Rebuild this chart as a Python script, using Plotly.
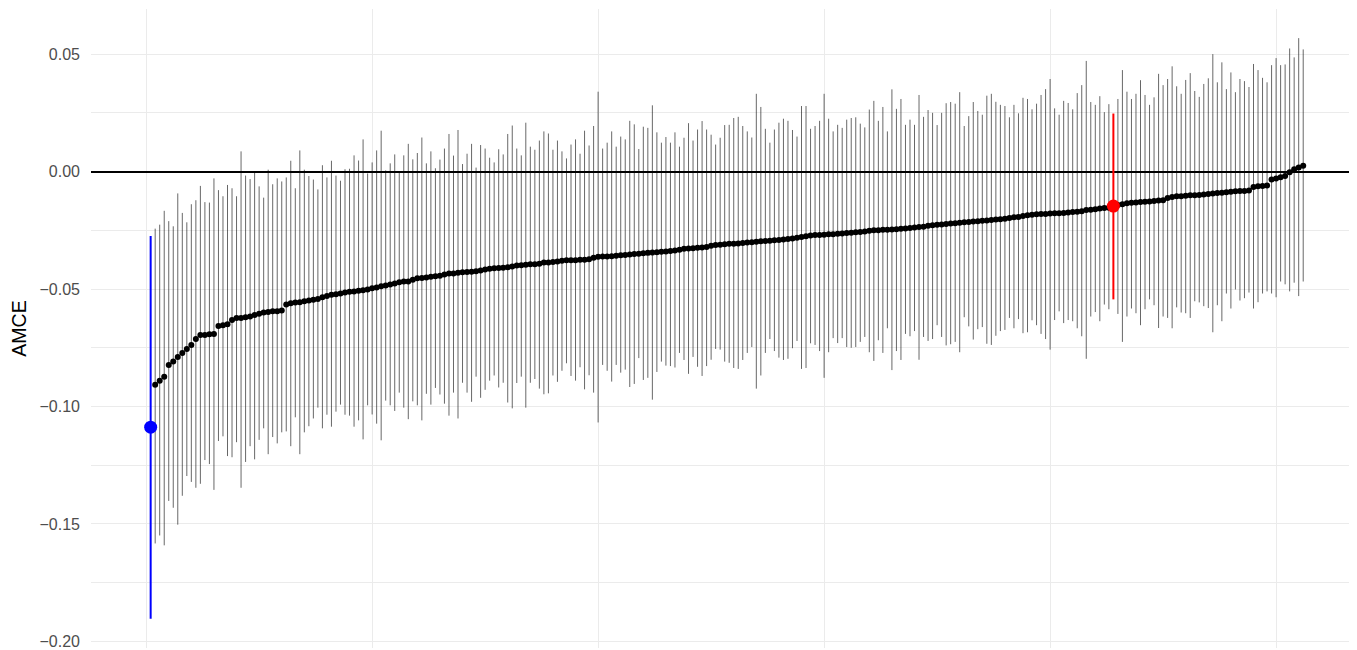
import plotly.graph_objects as go

# ---- data (sorted AMCE estimates with 95% CIs) ----
estimate = [
    -0.1088, -0.0907, -0.0890, -0.0873, -0.0823, -0.0809, -0.0789, -0.0772, -0.0755, -0.0738,
    -0.0713, -0.0696, -0.0696, -0.0693, -0.0691, -0.0657, -0.0654, -0.0650, -0.0632, -0.0623,
    -0.0623, -0.0620, -0.0617, -0.0611, -0.0605, -0.0600, -0.0598, -0.0595, -0.0595, -0.0591,
    -0.0566, -0.0561, -0.0557, -0.0556, -0.0552, -0.0549, -0.0546, -0.0542, -0.0535, -0.0530,
    -0.0524, -0.0522, -0.0519, -0.0515, -0.0512, -0.0510, -0.0507, -0.0505, -0.0502, -0.0497,
    -0.0493, -0.0488, -0.0485, -0.0481, -0.0476, -0.0471, -0.0468, -0.0468, -0.0461, -0.0454,
    -0.0453, -0.0451, -0.0448, -0.0446, -0.0443, -0.0438, -0.0434, -0.0434, -0.0431, -0.0429,
    -0.0427, -0.0426, -0.0424, -0.0421, -0.0417, -0.0414, -0.0412, -0.0410, -0.0409, -0.0407,
    -0.0404, -0.0400, -0.0399, -0.0397, -0.0395, -0.0394, -0.0392, -0.0387, -0.0387, -0.0385,
    -0.0383, -0.0380, -0.0378, -0.0377, -0.0377, -0.0375, -0.0375, -0.0373, -0.0367, -0.0363,
    -0.0361, -0.0361, -0.0360, -0.0358, -0.0356, -0.0355, -0.0353, -0.0351, -0.0350, -0.0348,
    -0.0346, -0.0345, -0.0343, -0.0341, -0.0340, -0.0338, -0.0336, -0.0333, -0.0329, -0.0328,
    -0.0326, -0.0324, -0.0323, -0.0321, -0.0316, -0.0313, -0.0311, -0.0309, -0.0307, -0.0307,
    -0.0306, -0.0304, -0.0302, -0.0301, -0.0299, -0.0297, -0.0296, -0.0294, -0.0292, -0.0291,
    -0.0289, -0.0287, -0.0285, -0.0282, -0.0279, -0.0275, -0.0272, -0.0270, -0.0270, -0.0269,
    -0.0267, -0.0267, -0.0265, -0.0264, -0.0262, -0.0260, -0.0258, -0.0257, -0.0255, -0.0252,
    -0.0250, -0.0250, -0.0248, -0.0248, -0.0247, -0.0245, -0.0243, -0.0242, -0.0240, -0.0238,
    -0.0236, -0.0235, -0.0231, -0.0228, -0.0226, -0.0225, -0.0223, -0.0221, -0.0220, -0.0218,
    -0.0216, -0.0215, -0.0213, -0.0211, -0.0209, -0.0208, -0.0206, -0.0204, -0.0203, -0.0201,
    -0.0198, -0.0194, -0.0193, -0.0189, -0.0186, -0.0184, -0.0182, -0.0181, -0.0181, -0.0179,
    -0.0177, -0.0177, -0.0176, -0.0174, -0.0172, -0.0171, -0.0169, -0.0164, -0.0162, -0.0160,
    -0.0157, -0.0155, -0.0154, -0.0147, -0.0142, -0.0139, -0.0135, -0.0133, -0.0132, -0.0130,
    -0.0128, -0.0127, -0.0125, -0.0123, -0.0122, -0.0113, -0.0108, -0.0105, -0.0105, -0.0103,
    -0.0101, -0.0101, -0.0100, -0.0098, -0.0096, -0.0093, -0.0091, -0.0090, -0.0088, -0.0086,
    -0.0084, -0.0083, -0.0083, -0.0081, -0.0066, -0.0063, -0.0061, -0.0059, -0.0034, -0.0029,
    -0.0024, -0.0019, -0.0003, 0.0010, 0.0017, 0.0025,
]

upper = [
    -0.0274, -0.0243, -0.0226, -0.0167, -0.0211, -0.0233, -0.0093, -0.0176, -0.0216, -0.0139,
    -0.0122, -0.0061, -0.0130, -0.0132, -0.0029, -0.0079, -0.0105, -0.0057, -0.0071, -0.0105,
    0.0086, -0.0017, -0.0032, -0.0002, -0.0063, -0.0111, 0.0008, -0.0054, -0.0029, -0.0042,
    -0.0025, 0.0046, -0.0071, 0.0090, 0.0008, -0.0019, -0.0034, -0.0076, 0.0027, -0.0025,
    0.0046, -0.0017, -0.0039, 0.0010, 0.0012, 0.0069, 0.0047, 0.0137, -0.0008, 0.0039,
    0.0090, 0.0174, 0.0005, 0.0035, 0.0073, -0.0003, 0.0069, 0.0118, 0.0052, 0.0079,
    0.0145, 0.0035, 0.0086, 0.0014, 0.0051, 0.0098, 0.0160, 0.0068, 0.0177, 0.0032,
    0.0076, 0.0118, 0.0017, 0.0113, 0.0098, 0.0059, 0.0039, 0.0095, 0.0073, 0.0160,
    0.0196, 0.0098, 0.0069, 0.0208, 0.0106, 0.0093, 0.0132, 0.0171, 0.0162, 0.0093,
    0.0132, 0.0086, 0.0056, 0.0115, 0.0137, 0.0076, 0.0174, 0.0111, 0.0194, 0.0340,
    0.0098, 0.0123, 0.0171, 0.0106, 0.0149, 0.0137, 0.0216, 0.0201, 0.0096, 0.0191,
    0.0186, 0.0282, 0.0167, 0.0123, 0.0147, 0.0123, 0.0167, 0.0106, 0.0144, 0.0206,
    0.0132, 0.0179, 0.0215, 0.0179, 0.0157, 0.0115, 0.0144, 0.0198, 0.0199, 0.0228,
    0.0233, 0.0194, 0.0171, 0.0145, 0.0331, 0.0275, 0.0182, 0.0123, 0.0179, 0.0208,
    0.0225, 0.0216, 0.0177, 0.0149, 0.0279, 0.0279, 0.0182, 0.0194, 0.0216, 0.0331,
    0.0225, 0.0171, 0.0199, 0.0186, 0.0221, 0.0228, 0.0231, 0.0204, 0.0188, 0.0264,
    0.0301, 0.0216, 0.0275, 0.0171, 0.0350, 0.0267, 0.0309, 0.0199, 0.0221, 0.0199,
    0.0326, 0.0233, 0.0262, 0.0250, 0.0198, 0.0250, 0.0291, 0.0296, 0.0289, 0.0338,
    0.0194, 0.0236, 0.0296, 0.0258, 0.0242, 0.0323, 0.0331, 0.0297, 0.0284, 0.0279,
    0.0231, 0.0284, 0.0248, 0.0314, 0.0309, 0.0265, 0.0289, 0.0326, 0.0351, 0.0394,
    0.0269, 0.0242, 0.0301, 0.0292, 0.0265, 0.0334, 0.0368, 0.0471, 0.0296, 0.0284,
    0.0321, 0.0253, 0.0287, 0.0247, 0.0309, 0.0432, 0.0340, 0.0309, 0.0331, 0.0389,
    0.0326, 0.0284, 0.0316, 0.0416, 0.0368, 0.0394, 0.0448, 0.0363, 0.0331, 0.0390,
    0.0419, 0.0343, 0.0318, 0.0373, 0.0397, 0.0500, 0.0380, 0.0465, 0.0351, 0.0422,
    0.0338, 0.0394, 0.0385, 0.0360, 0.0458, 0.0432, 0.0399, 0.0380, 0.0453, 0.0483,
    0.0453, 0.0456, 0.0524, 0.0486, 0.0568, 0.0520,
]

lower = [
    -0.1904, -0.1583, -0.1549, -0.1591, -0.1402, -0.1431, -0.1503, -0.1380, -0.1296, -0.1321,
    -0.1346, -0.1329, -0.1228, -0.1245, -0.1355, -0.1147, -0.1127, -0.1211, -0.1216, -0.1152,
    -0.1346, -0.1236, -0.1169, -0.1225, -0.1142, -0.1093, -0.1203, -0.1130, -0.1157, -0.1110,
    -0.1106, -0.1169, -0.1046, -0.1203, -0.1110, -0.1084, -0.1051, -0.1005, -0.1093, -0.1035,
    -0.1086, -0.1022, -0.0992, -0.1035, -0.1039, -0.1086, -0.1059, -0.1140, -0.0995, -0.1034,
    -0.1073, -0.1144, -0.0975, -0.0995, -0.1019, -0.0941, -0.1005, -0.1054, -0.0978, -0.0995,
    -0.1059, -0.0946, -0.0992, -0.0921, -0.0949, -0.0988, -0.1039, -0.0941, -0.1051, -0.0899,
    -0.0941, -0.0980, -0.0873, -0.0963, -0.0929, -0.0890, -0.0868, -0.0919, -0.0899, -0.0983,
    -0.1008, -0.0900, -0.0873, -0.1005, -0.0899, -0.0883, -0.0924, -0.0948, -0.0944, -0.0868,
    -0.0895, -0.0848, -0.0816, -0.0870, -0.0890, -0.0833, -0.0927, -0.0867, -0.0941, -0.1068,
    -0.0823, -0.0848, -0.0894, -0.0823, -0.0856, -0.0843, -0.0917, -0.0904, -0.0794, -0.0887,
    -0.0878, -0.0971, -0.0853, -0.0809, -0.0826, -0.0828, -0.0834, -0.0772, -0.0802, -0.0861,
    -0.0789, -0.0831, -0.0870, -0.0828, -0.0801, -0.0755, -0.0758, -0.0809, -0.0814, -0.0836,
    -0.0840, -0.0802, -0.0772, -0.0747, -0.0924, -0.0868, -0.0772, -0.0713, -0.0764, -0.0792,
    -0.0802, -0.0797, -0.0752, -0.0721, -0.0840, -0.0836, -0.0731, -0.0738, -0.0764, -0.0878,
    -0.0769, -0.0709, -0.0730, -0.0709, -0.0747, -0.0750, -0.0747, -0.0725, -0.0704, -0.0769,
    -0.0806, -0.0718, -0.0772, -0.0667, -0.0845, -0.0764, -0.0802, -0.0691, -0.0701, -0.0679,
    -0.0801, -0.0704, -0.0721, -0.0713, -0.0654, -0.0704, -0.0740, -0.0735, -0.0725, -0.0769,
    -0.0620, -0.0659, -0.0715, -0.0671, -0.0662, -0.0733, -0.0738, -0.0699, -0.0679, -0.0674,
    -0.0623, -0.0667, -0.0628, -0.0688, -0.0684, -0.0633, -0.0654, -0.0691, -0.0713, -0.0758,
    -0.0632, -0.0595, -0.0645, -0.0632, -0.0637, -0.0667, -0.0701, -0.0797, -0.0617, -0.0598,
    -0.0637, -0.0566, -0.0586, -0.0544, -0.0606, -0.0725, -0.0617, -0.0583, -0.0603, -0.0654,
    -0.0586, -0.0544, -0.0569, -0.0666, -0.0617, -0.0623, -0.0667, -0.0578, -0.0600, -0.0603,
    -0.0623, -0.0552, -0.0557, -0.0573, -0.0581, -0.0684, -0.0569, -0.0637, -0.0519, -0.0583,
    -0.0502, -0.0549, -0.0539, -0.0515, -0.0583, -0.0556, -0.0519, -0.0510, -0.0519, -0.0535,
    -0.0468, -0.0480, -0.0510, -0.0473, -0.0530, -0.0468,
]

# highlighted attributes (1-based rank) and their colours
highlight = {1: "#0000FF", 214: "#FF0000"}

y_tick_vals = [-0.20, -0.15, -0.10, -0.05, 0.00, 0.05]
y_tick_text = ["\u22120.20", "\u22120.15", "\u22120.10", "\u22120.05", "0.00", "0.05"]
y_minor_vals = [-0.175, -0.125, -0.075, -0.025, 0.025]
x_grid_vals = [0, 50, 100, 150, 200, 250]

# ---- build figure ----
seg_x, seg_y = [], []
pt_x, pt_y = [], []
for i, (e, lo, hi) in enumerate(zip(estimate, lower, upper), start=1):
    if i in highlight:
        continue
    seg_x += [i, i, None]
    seg_y += [lo, hi, None]
    pt_x.append(i)
    pt_y.append(e)

fig = go.Figure()
fig.add_trace(go.Scatter(x=seg_x, y=seg_y, mode="lines",
                         line=dict(color="#000000", width=0.6),
                         hoverinfo="skip", showlegend=False))
fig.add_trace(go.Scatter(x=pt_x, y=pt_y, mode="markers",
                         marker=dict(color="#000000", size=6, line=dict(width=0)),
                         showlegend=False))
for i, col in highlight.items():
    fig.add_trace(go.Scatter(x=[i, i], y=[lower[i - 1], upper[i - 1]], mode="lines",
                             line=dict(color=col, width=2), showlegend=False,
                             hoverinfo="skip"))
    fig.add_trace(go.Scatter(x=[i], y=[estimate[i - 1]], mode="markers",
                             marker=dict(color=col, size=13, line=dict(width=0)),
                             showlegend=False))

font_family = "Liberation Sans, Arial, sans-serif"
# the page body adds an 8px offset, so the figure is sized to fill the rest of the window
fig.update_layout(
    width=1349, height=642,
    margin=dict(l=83, r=0, t=1, b=2),
    paper_bgcolor="#FFFFFF", plot_bgcolor="#FFFFFF",
    font=dict(family=font_family, color="#4D4D4D"),
    xaxis=dict(range=[-12.2, 267.9], tickvals=x_grid_vals, showticklabels=False,
               showgrid=True, gridcolor="#EBEBEB", gridwidth=1.1,
               zeroline=False, showline=False, ticks=""),
    yaxis=dict(range=[-0.2028, 0.0692], tickvals=y_tick_vals, ticktext=y_tick_text,
               showgrid=True, gridcolor="#EBEBEB", gridwidth=1.1,
               minor=dict(tickvals=y_minor_vals, showgrid=True,
                          gridcolor="#EBEBEB", gridwidth=0.6, ticks=""),
               zeroline=True, zerolinecolor="#000000", zerolinewidth=1.7,
               showline=False, ticks="", ticklabeloverflow="allow",
               tickfont=dict(size=16, color="#4D4D4D", family=font_family),
               ticklabelstandoff=10,
               title=dict(text="AMCE", font=dict(size=19.5, color="#000000",
                                                 family=font_family),
                          standoff=10)),
)

fig.write_html("out.html")
